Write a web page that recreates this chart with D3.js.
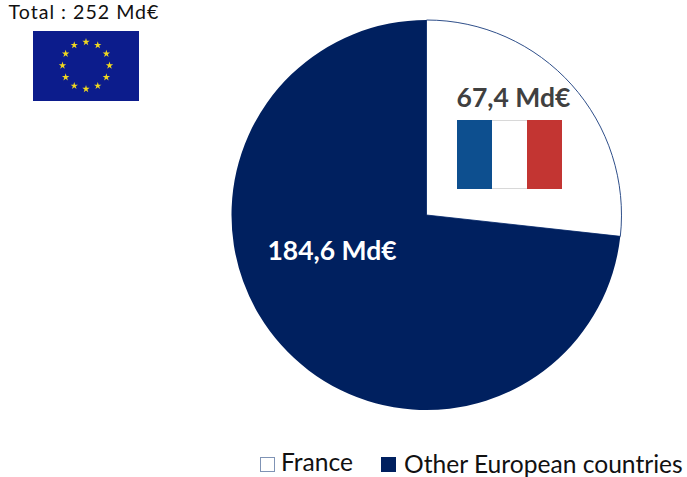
<!DOCTYPE html>
<html>
<head>
<meta charset="utf-8">
<script src="https://cdnjs.cloudflare.com/ajax/libs/d3/7.8.5/d3.min.js"></script>
<style>
html, body { margin: 0; padding: 0; background: #fff; }
svg { display: block; }
text { font-family: Lato, "Open Sans", sans-serif; }
</style>
</head>
<body>
<svg id="chart"></svg>
<script>
var width = 687,
height = 477;

const categories = ["France", "Other European countries"];
const values = [67.4, 184.6];
const valueLabels = ["67,4 Md€", "184,6 Md€"];
const totalLabel = "Total : 252 Md€";
const frColors = ["#11508f", "#ffffff", "#c33531"];

const navy = "#00205f";

const svg = d3.select("#chart")
    .attr("width", width)
    .attr("height", height);

// soft edges for the flags, they are scaled bitmaps in the original
const defs = svg.append("defs");
defs.append("filter").attr("id", "soft")
    .append("feGaussianBlur").attr("stdDeviation", 0.6);
defs.append("clipPath").attr("id", "frClip")
    .append("rect")
    .attr("x", 457)
    .attr("y", 120)
    .attr("width", 105)
    .attr("height", 69);

// pie, starts at 12 o'clock, France first
const pie = d3.pie().sort(null);
const arc = d3.arc().innerRadius(0).outerRadius(195);

const pieG = svg.append("g").attr("transform", "translate(426.5,215)");

pieG.selectAll("path")
    .data(pie(values))
    .enter()
    .append("path")
    .attr("d", arc)
    .attr("fill", (d, i) => i === 0 ? "#fff" : navy)
    .attr("stroke", (d, i) => i === 0 ? "#2f4f8a" : "none")
    .attr("stroke-width", 1);

// value labels
svg.append("text")
    .attr("x", 513.5)
    .attr("y", 107)
    .attr("text-anchor", "middle")
    .attr("font-size", 26.5)
    .attr("font-weight", 700)
    .attr("fill", "#404040")
    .text(valueLabels[0]);

svg.append("text")
    .attr("x", 332)
    .attr("y", 260)
    .attr("text-anchor", "middle")
    .attr("font-size", 26.5)
    .attr("font-weight", 700)
    .attr("fill", "#fff")
    .text(valueLabels[1]);

// french flag
const frX = d3.scaleBand().domain(d3.range(3)).range([457, 562]);
const frG = svg.append("g").attr("clip-path", "url(#frClip)")
    .append("g").attr("filter", "url(#soft)");
frG.selectAll("rect")
    .data(frColors)
    .enter()
    .append("rect")
    .attr("x", (d, i) => frX(i) - (i === 0 ? 4 : 0))
    .attr("y", 116)
    .attr("width", (d, i) => frX.bandwidth() + (i === 1 ? 0 : 4))
    .attr("height", 77)
    .attr("fill", d => d);
frG.append("rect")
    .attr("x", frX(1))
    .attr("y", 116)
    .attr("width", frX.bandwidth())
    .attr("height", 5)
    .attr("fill", "#d8d8d8");
frG.append("rect")
    .attr("x", frX(1))
    .attr("y", 188)
    .attr("width", frX.bandwidth())
    .attr("height", 5)
    .attr("fill", "#d8d8d8");

// total + eu flag
svg.append("text")
    .attr("x", 84)
    .attr("y", 19.4)
    .attr("text-anchor", "middle")
    .attr("font-size", 19.6)
    .attr("letter-spacing", 1)
    .attr("fill", "#111")
    .text(totalLabel);

svg.append("rect")
    .attr("x", 33)
    .attr("y", 31)
    .attr("width", 106)
    .attr("height", 70)
    .attr("fill", "#0c1c8c");

const star = d3.symbol().type(d3.symbolStar).size(17);
svg.selectAll(".star")
    .data(d3.range(12))
    .enter()
    .append("path")
    .attr("class", "star")
    .attr("d", star)
    .attr("fill", "#f0d820")
    .attr("transform", d => {
        const a = d * Math.PI / 6;
        return "translate(" + (86 + 23.5 * Math.sin(a)) + "," + (65.5 - 23.5 * Math.cos(a)) + ")";
    });

// legend
const legendX = [260, 381];
const legendTextX = [281, 404];

svg.selectAll(".swatch")
    .data(categories)
    .enter()
    .append("rect")
    .attr("class", "swatch")
    .attr("x", (d, i) => legendX[i] + 0.5)
    .attr("y", 457.5)
    .attr("width", 14)
    .attr("height", 14)
    .attr("fill", (d, i) => i === 0 ? "#fff" : navy)
    .attr("stroke", (d, i) => i === 0 ? "#7f93b5" : navy);

svg.selectAll(".legendText")
    .data(categories)
    .enter()
    .append("text")
    .attr("class", "legendText")
    .attr("x", (d, i) => legendTextX[i])
    .attr("y", (d, i) => i === 0 ? 471 : 473)
    .attr("font-size", 24.6)
    .attr("fill", "#111")
    .text(d => d);
</script>
</body>
</html>
